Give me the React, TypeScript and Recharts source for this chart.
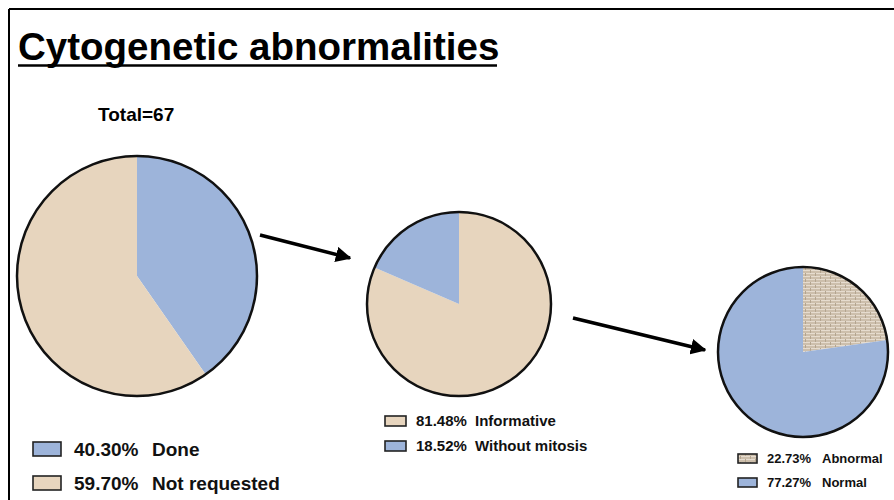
import React from "react";
import { PieChart, Pie, Cell } from "recharts";

// Step 1: all patients
const STEP1_LABELS = ["Done", "Not requested"];
const STEP1_VALUES = [40.3, 59.7];
// Step 2: karyotypes done
const STEP2_LABELS = ["Informative", "Without mitosis"];
const STEP2_VALUES = [81.48, 18.52];
// Step 3: informative karyotypes
const STEP3_LABELS = ["Abnormal", "Normal"];
const STEP3_VALUES = [22.73, 77.27];

const TITLE = "Cytogenetic abnormalities";
const TOTAL_LABEL = "Total=67";

const BLUE = "#9db4da";
const BEIGE = "#e7d5be";
const BRICK = "url(#brick)";

const STEP1_FILLS = [BLUE, BEIGE];
const STEP2_FILLS = [BEIGE, BLUE];
const STEP3_FILLS = [BRICK, BLUE];

const FONT = "'Liberation Sans', Arial, Helvetica, sans-serif";
const W = 894;
const H = 500;

const toRows = (labels: string[], values: number[]) =>
  labels.map((name, i) => ({ name, value: values[i] }));

const step1 = toRows(STEP1_LABELS, STEP1_VALUES);
const step2 = toRows(STEP2_LABELS, STEP2_VALUES);
const step3 = toRows(STEP3_LABELS, STEP3_VALUES);

// pie placement: [cx, cy, r]
const PIES: [number, number, number][] = [
  [137, 276, 120],
  [459, 304, 92],
  [803, 352, 85],
];

type LegendProps = {
  rows: { name: string; value: number }[];
  fills: string[];
  x: number;
  y: number;
  gap: number;
  boxW: number;
  boxH: number;
  fontSize: number;
  pctX: number;
  nameX: number;
};

function StepLegend({ rows, fills, x, y, gap, boxW, boxH, fontSize, pctX, nameX }: LegendProps) {
  return (
    <g fontFamily={FONT} fontWeight="bold" fontSize={fontSize} fill="#111">
      {rows.map((r, i) => {
        const base = y + i * gap;
        return (
          <g key={r.name}>
            <rect x={x} y={base - boxH} width={boxW} height={boxH} fill={fills[i]} stroke="#222" strokeWidth={1.6} />
            <text x={pctX} y={base}>{r.value.toFixed(2)}%</text>
            <text x={nameX} y={base}>{r.name}</text>
          </g>
        );
      })}
    </g>
  );
}

export default function App() {
  return (
    <div style={{ position: "absolute", left: 0, top: 0, width: W, height: H, background: "#fff" }}>
      <svg width={0} height={0} style={{ position: "absolute" }}>
        <defs>
          {/* brick texture for the abnormal slice */}
          <pattern id="brick" width={10} height={6} patternUnits="userSpaceOnUse">
            <rect width={10} height={6} fill="#cdbfac" />
            <line x1={0} y1={0.5} x2={10} y2={0.5} stroke="#e6dccf" strokeWidth={1} />
            <line x1={0} y1={3.5} x2={10} y2={3.5} stroke="#e6dccf" strokeWidth={1} />
            <line x1={0.5} y1={0} x2={0.5} y2={3} stroke="#b3a48f" strokeWidth={1} />
            <line x1={5.5} y1={3} x2={5.5} y2={6} stroke="#b3a48f" strokeWidth={1} />
          </pattern>
        </defs>
      </svg>

      <div style={{ position: "absolute", left: 0, top: 0 }}>
        <PieChart width={W} height={H} margin={{ top: 0, right: 0, bottom: 0, left: 0 }}>
          <Pie data={step1} dataKey="value" nameKey="name" cx={PIES[0][0]} cy={PIES[0][1]}
            outerRadius={PIES[0][2]} startAngle={90} endAngle={-270} stroke="none" isAnimationActive={false}>
            {step1.map((d, i) => <Cell key={d.name} fill={STEP1_FILLS[i]} />)}
          </Pie>
          <Pie data={step2} dataKey="value" nameKey="name" cx={PIES[1][0]} cy={PIES[1][1]}
            outerRadius={PIES[1][2]} startAngle={90} endAngle={-270} stroke="none" isAnimationActive={false}>
            {step2.map((d, i) => <Cell key={d.name} fill={STEP2_FILLS[i]} />)}
          </Pie>
          <Pie data={step3} dataKey="value" nameKey="name" cx={PIES[2][0]} cy={PIES[2][1]}
            outerRadius={PIES[2][2]} startAngle={90} endAngle={-270} stroke="none" isAnimationActive={false}>
            {step3.map((d, i) => <Cell key={d.name} fill={STEP3_FILLS[i]} />)}
          </Pie>
        </PieChart>
      </div>

      <svg width={W} height={H} style={{ position: "absolute", left: 0, top: 0, pointerEvents: "none" }}>
        <defs>
          <marker id="head" viewBox="0 0 10 10" refX={9} refY={5} markerWidth={4.5} markerHeight={4.5}
            orient="auto" markerUnits="strokeWidth">
            <path d="M0,0 L10,5 L0,10 z" fill="#000" />
          </marker>
        </defs>

        {/* slide frame */}
        <line x1={9} y1={9} x2={W} y2={9} stroke="#000" strokeWidth={2} />
        <line x1={9} y1={9} x2={9} y2={H} stroke="#000" strokeWidth={2} />

        {/* pie outlines */}
        {PIES.map(([cx, cy, r], i) => (
          <circle key={i} cx={cx} cy={cy} r={r} fill="none" stroke="#111" strokeWidth={2.5} />
        ))}

        {/* flow arrows */}
        <line x1={260} y1={235} x2={350} y2={258} stroke="#000" strokeWidth={3.5} markerEnd="url(#head)" />
        <line x1={573} y1={318} x2={705} y2={350} stroke="#000" strokeWidth={3.5} markerEnd="url(#head)" />

        <text x={18} y={60} fontFamily={FONT} fontWeight="bold" fontSize={38.5} fill="#000">{TITLE}</text>
        <line x1={18} y1={65.5} x2={497} y2={65.5} stroke="#000" strokeWidth={2.5} />
        <text x={98} y={121} fontFamily={FONT} fontWeight="bold" fontSize={19} fill="#000">{TOTAL_LABEL}</text>

        <StepLegend rows={step1} fills={STEP1_FILLS} x={33} y={456} gap={34} boxW={28} boxH={14}
          fontSize={19} pctX={74} nameX={152} />
        <StepLegend rows={step2} fills={STEP2_FILLS} x={385} y={426} gap={25} boxW={21} boxH={10}
          fontSize={15} pctX={416} nameX={475} />
        <StepLegend rows={step3} fills={STEP3_FILLS} x={738} y={463} gap={24} boxW={19} boxH={9}
          fontSize={13} pctX={767} nameX={822} />
      </svg>
    </div>
  );
}
